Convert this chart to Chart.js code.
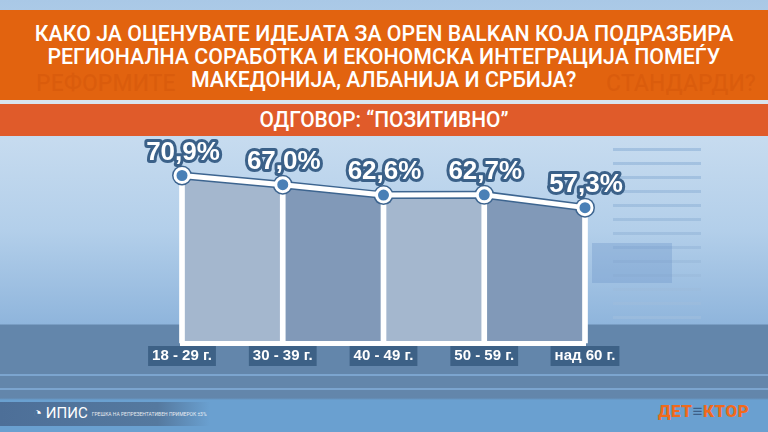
<!DOCTYPE html>
<html>
<head>
<meta charset="utf-8">
<script src="https://cdn.jsdelivr.net/npm/chart.js@4.4.0/dist/chart.umd.min.js"></script>
<style>
  html, body { margin: 0; padding: 0; }
  #stage {
    position: relative; width: 768px; height: 432px; overflow: hidden;
    font-family: Roboto, "Noto Sans", sans-serif;
    background: linear-gradient(to bottom, #a9c8e6 0px, #c6dbef 140px, #b3cfea 230px, #8fb5dc 324px,
                #6386ab 325px, #6386ab 398px, #6aa0d0 400px, #6aa0d0 432px);
  }
  .abs { position: absolute; }
  .panel { left: 613px; top: 148px; width: 88px; height: 176px;
    background: repeating-linear-gradient(to bottom, #9cbcdd 0px, #9cbcdd 3px, transparent 3px, transparent 14px); opacity: 0.8; }
  .glow { left: 592px; top: 243px; width: 80px; height: 40px; background: rgba(110,150,200,0.35); }
  .stripe { left: 0; width: 768px; height: 2px; background: #7ca5cf; }
  .banner { left: 0; top: 10px; width: 768px; height: 90px; background: #e2630f; }
  .sep { left: 0; top: 100px; width: 768px; height: 4px; background: #d9e4ee; }
  .sub { left: 0; top: 104px; width: 768px; height: 32px; background: #e05b2a; }
  .title { left: 0; width: 768px; text-align: center; color: #fff; font-size: 22px; font-weight: 500; line-height: 23px; }
  .title span { display: inline-block; transform: scaleX(0.97); white-space: nowrap; }
  .ghost { color: rgba(180,60,0,0.16); font-size: 23px; font-weight: 500; top: 70px; white-space: nowrap; }
  .subtitle { left: 0; top: 106px; width: 768px; text-align: center; color: #fff; font-size: 22px; font-weight: 500; line-height: 28px; }
  .subtitle span { display: inline-block; transform: scaleX(0.95); }
  .foot { left: 0; top: 402px; width: 210px; height: 24px;
    background: linear-gradient(to right, #4d6f98 0%, #55799f 75%, rgba(85,121,159,0) 100%); }
  .logo { left: 33px; top: 404px; color: #fff; font-size: 15px; white-space: nowrap; }
  .logo small { font-size: 5px; margin-left: 4px; opacity: 0.85; vertical-align: middle; }
  .brand { left: 658px; top: 401px; color: #f06a1c; font-size: 17px; font-weight: 900; letter-spacing: 0.5px; }
  .brand b { color: #3d5f88; }
  canvas { position: absolute; left: 0; top: 0; }
</style>
</head>
<body>
<div id="stage">
  <div class="abs panel"></div>
  <div class="abs glow"></div>
  <div class="abs stripe" style="top:374px"></div>
  <div class="abs stripe" style="top:388px"></div>
  <div class="abs banner"></div>
  <div class="abs ghost" style="left:36px">РЕФОРМИТЕ</div>
  <div class="abs ghost" style="left:606px">СТАНДАРДИ?</div>
  <div class="abs title" style="top:22px"><span>КАКО ЈА ОЦЕНУВАТЕ ИДЕЈАТА ЗА OPEN BALKAN КОЈА ПОДРАЗБИРА</span></div>
  <div class="abs title" style="top:45px"><span>РЕГИОНАЛНА СОРАБОТКА И ЕКОНОМСКА ИНТЕГРАЦИЈА ПОМЕЃУ</span></div>
  <div class="abs title" style="top:68px"><span>МАКЕДОНИЈА, АЛБАНИЈА И СРБИЈА?</span></div>
  <div class="abs sep"></div>
  <div class="abs sub"></div>
  <div class="abs subtitle"><span>ОДГОВОР: “ПОЗИТИВНО”</span></div>
  <div class="abs foot"></div>
  <div class="abs logo">◔ ИПИС<small>ГРЕШКА НА РЕПРЕЗЕНТАТИВЕН ПРИМЕРОК ±3%</small></div>
  <div class="abs brand">ДЕТ<b>≡</b>КТОР</div>
  <canvas id="chart" width="768" height="432"></canvas>
</div>
<script>
// age groups and share of "positive" answers
const ageGroups = ['18 - 29 г.', '30 - 39 г.', '40 - 49 г.', '50 - 59 г.', 'над 60 г.'];
const positive = [70.9, 67.0, 62.6, 62.7, 57.3];

const LIGHT_FILL = '#a4b7ce';
const DARK_FILL = '#8199b8';
const OUTLINE = '#3d6590';

// value labels above points
const valueLabels = {
  id: 'valueLabels',
  afterDatasetsDraw(chart) {
    const meta = chart.getDatasetMeta(0);
    const ctx = chart.ctx;
    ctx.save();
    ctx.font = 'bold 26px "Liberation Sans", Arial, sans-serif';
    ctx.textAlign = 'center';
    ctx.textBaseline = 'middle';
    ctx.lineJoin = 'round';
    meta.data.forEach((pt, i) => {
      let txt = positive[i].toFixed(1).replace('.', ',') + '%';
      ctx.lineWidth = 6;
      ctx.strokeStyle = '#3b6189';
      ctx.strokeText(txt, pt.x + 1, pt.y - 23);
      ctx.fillStyle = '#ffffff';
      ctx.fillText(txt, pt.x + 1, pt.y - 23);
    });
    ctx.restore();
  }
};

let chart = new Chart(document.getElementById('chart'), {
  data: {
    labels: ageGroups,
    datasets: [{
      type: 'line',
      data: positive,
      borderColor: '#ffffff',
      borderWidth: 5,
      fill: 'origin',
      backgroundColor: LIGHT_FILL,
      segment: {
        backgroundColor: c => c.p0DataIndex % 2 === 0 ? LIGHT_FILL : DARK_FILL
      },
      tension: 0,
      pointRadius: 7,
      pointBackgroundColor: '#4a80b6',
      pointBorderColor: '#ffffff',
      pointBorderWidth: 3,
      clip: false,
      order: 1
    }, {
      type: 'line',
      data: positive,
      borderColor: OUTLINE,
      borderWidth: 8,
      fill: false,
      tension: 0,
      pointRadius: 10,
      pointBackgroundColor: OUTLINE,
      pointBorderWidth: 0,
      clip: false,
      order: 2
    }, {
      type: 'bar',
      data: positive,
      backgroundColor: '#ffffff',
      barThickness: 5,
      clip: false,
      order: 3
    }]
  },
  options: {
    responsive: false,
    animation: false,
    devicePixelRatio: 1,
    layout: { padding: { left: 182, right: 183, top: 154, bottom: 0 } },
    plugins: {
      legend: { display: false },
      tooltip: { enabled: false },
      filler: { drawTime: 'beforeDatasetsDraw' }
    },
    scales: {
      x: {
        offset: false,
        grid: { display: false, drawTicks: false },
        border: { display: true, color: '#ffffff', width: 5, z: 1 },
        afterFit: s => { s.height = 89; },
        ticks: {
          color: '#ffffff',
          font: { family: '"Liberation Sans", Arial, sans-serif', weight: 'bold', size: 15 },
          padding: 4,
          maxRotation: 0,
          autoSkip: false,
          showLabelBackdrop: true,
          backdropColor: '#3d6186',
          backdropPadding: { x: 4, y: 1 }
        }
      },
      y: {
        display: false,
        min: 0,
        max: 80
      }
    }
  },
  plugins: [valueLabels]
});
</script>
</body>
</html>
